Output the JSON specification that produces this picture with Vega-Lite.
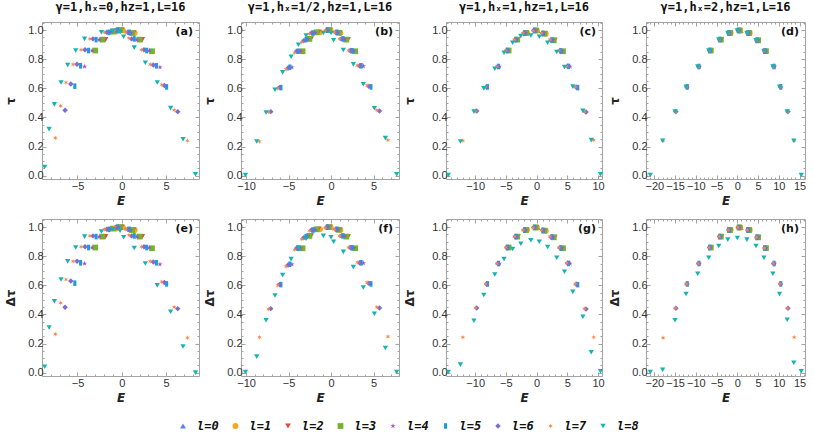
{
"$schema":"https://vega.github.io/schema/vega-lite/v6.json",
"padding":{"left":4,"top":0,"right":0,"bottom":0},
"data":{"values":[
{"c":1,"l":8,"E":-8.7,"t":0.06,"d":0.04},
{"c":1,"l":8,"E":-8.2,"t":0.32,"d":0.31},{"c":1,"l":7,"E":-7.5,"t":0.26,"d":0.265},
{"c":1,"l":8,"E":-7.6,"t":0.49,"d":0.49},{"c":1,"l":7,"E":-6.9,"t":0.48,"d":0.48},{"c":1,"l":6,"E":-6.4,"t":0.45,"d":0.45},
{"c":1,"l":8,"E":-6.85,"t":0.64,"d":0.64},{"c":1,"l":7,"E":-6.3,"t":0.64,"d":0.64},{"c":1,"l":6,"E":-5.75,"t":0.63,"d":0.63},{"c":1,"l":5,"E":-5.3,"t":0.615,"d":0.615},
{"c":1,"l":8,"E":-6.1,"t":0.76,"d":0.765},{"c":1,"l":7,"E":-5.5,"t":0.765,"d":0.765},{"c":1,"l":6,"E":-5.05,"t":0.765,"d":0.765},{"c":1,"l":5,"E":-4.65,"t":0.755,"d":0.755},{"c":1,"l":4,"E":-4.2,"t":0.75,"d":0.75},
{"c":1,"l":8,"E":-5.2,"t":0.86,"d":0.86},{"c":1,"l":7,"E":-4.6,"t":0.865,"d":0.865},{"c":1,"l":6,"E":-4.15,"t":0.865,"d":0.865},{"c":1,"l":5,"E":-3.75,"t":0.86,"d":0.86},{"c":1,"l":4,"E":-3.35,"t":0.86,"d":0.86},{"c":1,"l":3,"E":-3.0,"t":0.86,"d":0.86},
{"c":1,"l":8,"E":-4.2,"t":0.94,"d":0.935},{"c":1,"l":7,"E":-3.6,"t":0.94,"d":0.94},{"c":1,"l":6,"E":-3.25,"t":0.94,"d":0.94},{"c":1,"l":5,"E":-2.9,"t":0.935,"d":0.935},{"c":1,"l":4,"E":-2.55,"t":0.935,"d":0.935},{"c":1,"l":3,"E":-2.2,"t":0.935,"d":0.935},{"c":1,"l":2,"E":-1.85,"t":0.935,"d":0.935},
{"c":1,"l":8,"E":-2.3,"t":0.985,"d":0.97},{"c":1,"l":7,"E":-1.95,"t":0.985,"d":0.985},{"c":1,"l":6,"E":-1.7,"t":0.985,"d":0.985},{"c":1,"l":5,"E":-1.45,"t":0.985,"d":0.985},{"c":1,"l":4,"E":-1.2,"t":0.99,"d":0.99},{"c":1,"l":3,"E":-1.0,"t":0.99,"d":0.99},{"c":1,"l":2,"E":-0.8,"t":0.99,"d":0.99},{"c":1,"l":1,"E":-0.6,"t":0.99,"d":0.99},
{"c":1,"l":8,"E":-1.0,"t":0.995,"d":0.985},{"c":1,"l":7,"E":-0.85,"t":1,"d":1},{"c":1,"l":6,"E":-0.65,"t":1,"d":1},{"c":1,"l":5,"E":-0.5,"t":1,"d":1},{"c":1,"l":4,"E":-0.35,"t":1,"d":1},{"c":1,"l":3,"E":-0.2,"t":1,"d":1},{"c":1,"l":2,"E":-0.05,"t":1,"d":1},{"c":1,"l":1,"E":0.1,"t":1,"d":1},{"c":1,"l":0,"E":0.25,"t":1,"d":1},
{"c":1,"l":8,"E":-0.2,"t":0.985,"d":0.975},{"c":1,"l":7,"E":0.45,"t":0.985,"d":0.985},{"c":1,"l":6,"E":0.65,"t":0.985,"d":0.985},{"c":1,"l":5,"E":0.85,"t":0.985,"d":0.985},{"c":1,"l":4,"E":1.0,"t":0.98,"d":0.98},{"c":1,"l":3,"E":1.15,"t":0.98,"d":0.98},{"c":1,"l":2,"E":1.3,"t":0.98,"d":0.98},{"c":1,"l":1,"E":1.45,"t":0.98,"d":0.98},
{"c":1,"l":8,"E":0.2,"t":0.955,"d":0.93},{"c":1,"l":7,"E":0.8,"t":0.945,"d":0.945},{"c":1,"l":6,"E":1.1,"t":0.94,"d":0.94},{"c":1,"l":5,"E":1.4,"t":0.94,"d":0.94},{"c":1,"l":4,"E":1.7,"t":0.935,"d":0.935},{"c":1,"l":3,"E":2.0,"t":0.935,"d":0.935},{"c":1,"l":2,"E":2.3,"t":0.935,"d":0.935},
{"c":1,"l":8,"E":1.4,"t":0.88,"d":0.857},{"c":1,"l":7,"E":2.2,"t":0.865,"d":0.865},{"c":1,"l":6,"E":2.5,"t":0.865,"d":0.865},{"c":1,"l":5,"E":2.8,"t":0.86,"d":0.86},{"c":1,"l":4,"E":3.1,"t":0.86,"d":0.86},{"c":1,"l":3,"E":3.4,"t":0.855,"d":0.855},
{"c":1,"l":8,"E":2.65,"t":0.776,"d":0.75},{"c":1,"l":7,"E":3.2,"t":0.765,"d":0.765},{"c":1,"l":6,"E":3.55,"t":0.76,"d":0.76},{"c":1,"l":5,"E":3.9,"t":0.755,"d":0.755},{"c":1,"l":4,"E":4.3,"t":0.745,"d":0.745},
{"c":1,"l":8,"E":4.0,"t":0.64,"d":0.6},{"c":1,"l":7,"E":4.5,"t":0.625,"d":0.625},{"c":1,"l":6,"E":4.8,"t":0.62,"d":0.62},{"c":1,"l":5,"E":5.05,"t":0.61,"d":0.61},
{"c":1,"l":8,"E":5.5,"t":0.464,"d":0.418},{"c":1,"l":7,"E":5.9,"t":0.45,"d":0.45},{"c":1,"l":6,"E":6.3,"t":0.44,"d":0.44},
{"c":1,"l":8,"E":6.9,"t":0.25,"d":0.18},{"c":1,"l":7,"E":7.4,"t":0.24,"d":0.24},
{"c":1,"l":8,"E":8.3,"t":0.01,"d":0.0},

{"c":2,"l":8,"E":-10.08,"t":0.005,"d":0.005},
{"c":2,"l":8,"E":-8.75,"t":0.235,"d":0.11},{"c":2,"l":7,"E":-8.43,"t":0.235,"d":0.243},
{"c":2,"l":8,"E":-7.65,"t":0.434,"d":0.36},{"c":2,"l":7,"E":-7.37,"t":0.437,"d":0.437},{"c":2,"l":6,"E":-7.1,"t":0.44,"d":0.44},
{"c":2,"l":8,"E":-6.6,"t":0.59,"d":0.53},{"c":2,"l":7,"E":-6.27,"t":0.6,"d":0.6},{"c":2,"l":6,"E":-6.08,"t":0.605,"d":0.605},{"c":2,"l":5,"E":-5.9,"t":0.605,"d":0.605},
{"c":2,"l":8,"E":-5.7,"t":0.71,"d":0.67},{"c":2,"l":7,"E":-5.3,"t":0.73,"d":0.73},{"c":2,"l":6,"E":-5.05,"t":0.74,"d":0.74},{"c":2,"l":5,"E":-4.85,"t":0.745,"d":0.745},{"c":2,"l":4,"E":-4.6,"t":0.745,"d":0.745},
{"c":2,"l":8,"E":-4.7,"t":0.817,"d":0.78},{"c":2,"l":7,"E":-4.3,"t":0.845,"d":0.845},{"c":2,"l":6,"E":-4.05,"t":0.855,"d":0.855},{"c":2,"l":5,"E":-3.85,"t":0.855,"d":0.855},{"c":2,"l":4,"E":-3.6,"t":0.855,"d":0.855},{"c":2,"l":3,"E":-3.35,"t":0.855,"d":0.855},
{"c":2,"l":8,"E":-3.84,"t":0.9,"d":0.86},{"c":2,"l":7,"E":-3.45,"t":0.918,"d":0.918},{"c":2,"l":6,"E":-3.2,"t":0.928,"d":0.928},{"c":2,"l":5,"E":-2.95,"t":0.935,"d":0.935},{"c":2,"l":4,"E":-2.75,"t":0.938,"d":0.938},{"c":2,"l":3,"E":-2.55,"t":0.94,"d":0.94},{"c":2,"l":2,"E":-2.35,"t":0.94,"d":0.94},
{"c":2,"l":8,"E":-2.94,"t":0.963,"d":0.92},{"c":2,"l":7,"E":-2.55,"t":0.975,"d":0.975},{"c":2,"l":6,"E":-2.3,"t":0.98,"d":0.98},{"c":2,"l":5,"E":-2.1,"t":0.98,"d":0.98},{"c":2,"l":4,"E":-1.9,"t":0.982,"d":0.982},{"c":2,"l":3,"E":-1.7,"t":0.985,"d":0.985},{"c":2,"l":2,"E":-1.5,"t":0.985,"d":0.985},{"c":2,"l":1,"E":-1.3,"t":0.985,"d":0.985},
{"c":2,"l":8,"E":-0.9,"t":0.98,"d":0.94},{"c":2,"l":7,"E":-0.7,"t":0.995,"d":0.995},{"c":2,"l":6,"E":-0.55,"t":0.997,"d":0.997},{"c":2,"l":5,"E":-0.45,"t":1,"d":1},{"c":2,"l":4,"E":-0.35,"t":1,"d":1},{"c":2,"l":3,"E":-0.25,"t":1,"d":1},{"c":2,"l":2,"E":-0.15,"t":1,"d":1},{"c":2,"l":1,"E":-0.05,"t":1,"d":1},{"c":2,"l":0,"E":0.05,"t":1,"d":1},
{"c":2,"l":8,"E":0.0,"t":0.98,"d":0.93},{"c":2,"l":7,"E":0.4,"t":0.985,"d":0.985},{"c":2,"l":6,"E":0.55,"t":0.985,"d":0.985},{"c":2,"l":5,"E":0.7,"t":0.985,"d":0.985},{"c":2,"l":4,"E":0.8,"t":0.983,"d":0.983},{"c":2,"l":3,"E":0.9,"t":0.982,"d":0.982},{"c":2,"l":2,"E":1.0,"t":0.98,"d":0.98},{"c":2,"l":1,"E":1.1,"t":0.98,"d":0.98},
{"c":2,"l":8,"E":0.3,"t":0.93,"d":0.9},{"c":2,"l":7,"E":1.0,"t":0.94,"d":0.94},{"c":2,"l":6,"E":1.2,"t":0.94,"d":0.94},{"c":2,"l":5,"E":1.4,"t":0.94,"d":0.94},{"c":2,"l":4,"E":1.6,"t":0.938,"d":0.938},{"c":2,"l":3,"E":1.8,"t":0.935,"d":0.935},{"c":2,"l":2,"E":2.0,"t":0.935,"d":0.935},
{"c":2,"l":8,"E":1.45,"t":0.863,"d":0.83},{"c":2,"l":7,"E":2.05,"t":0.86,"d":0.86},{"c":2,"l":6,"E":2.25,"t":0.86,"d":0.86},{"c":2,"l":5,"E":2.45,"t":0.858,"d":0.858},{"c":2,"l":4,"E":2.65,"t":0.858,"d":0.858},{"c":2,"l":3,"E":2.85,"t":0.855,"d":0.855},
{"c":2,"l":8,"E":2.63,"t":0.765,"d":0.725},{"c":2,"l":7,"E":3.1,"t":0.758,"d":0.758},{"c":2,"l":6,"E":3.35,"t":0.755,"d":0.755},{"c":2,"l":5,"E":3.55,"t":0.755,"d":0.755},{"c":2,"l":4,"E":3.8,"t":0.753,"d":0.753},
{"c":2,"l":8,"E":3.8,"t":0.628,"d":0.585},{"c":2,"l":7,"E":4.24,"t":0.62,"d":0.62},{"c":2,"l":6,"E":4.45,"t":0.615,"d":0.615},{"c":2,"l":5,"E":4.7,"t":0.61,"d":0.61},
{"c":2,"l":8,"E":5.1,"t":0.463,"d":0.405},{"c":2,"l":7,"E":5.4,"t":0.45,"d":0.45},{"c":2,"l":6,"E":5.7,"t":0.445,"d":0.445},
{"c":2,"l":8,"E":6.4,"t":0.258,"d":0.17},{"c":2,"l":7,"E":6.7,"t":0.244,"d":0.248},
{"c":2,"l":8,"E":7.73,"t":0.01,"d":0.005},

{"c":3,"l":8,"E":-14.37,"t":0.005,"d":0.005},
{"c":3,"l":8,"E":-12.4,"t":0.235,"d":0.055},{"c":3,"l":7,"E":-12.0,"t":0.24,"d":0.243},
{"c":3,"l":8,"E":-10.2,"t":0.44,"d":0.357},{"c":3,"l":7,"E":-9.95,"t":0.445,"d":0.445},{"c":3,"l":6,"E":-9.75,"t":0.445,"d":0.445},
{"c":3,"l":8,"E":-8.6,"t":0.6,"d":0.534},{"c":3,"l":7,"E":-8.3,"t":0.61,"d":0.61},{"c":3,"l":6,"E":-8.15,"t":0.61,"d":0.61},{"c":3,"l":5,"E":-8.0,"t":0.61,"d":0.61},
{"c":3,"l":8,"E":-6.8,"t":0.735,"d":0.675},{"c":3,"l":7,"E":-6.45,"t":0.75,"d":0.75},{"c":3,"l":6,"E":-6.3,"t":0.75,"d":0.75},{"c":3,"l":5,"E":-6.2,"t":0.75,"d":0.75},{"c":3,"l":4,"E":-6.05,"t":0.75,"d":0.75},
{"c":3,"l":8,"E":-5.3,"t":0.845,"d":0.78},{"c":3,"l":7,"E":-5.0,"t":0.86,"d":0.86},{"c":3,"l":6,"E":-4.85,"t":0.86,"d":0.86},{"c":3,"l":5,"E":-4.75,"t":0.86,"d":0.86},{"c":3,"l":4,"E":-4.65,"t":0.86,"d":0.86},{"c":3,"l":3,"E":-4.55,"t":0.86,"d":0.86},
{"c":3,"l":8,"E":-3.9,"t":0.913,"d":0.85},{"c":3,"l":7,"E":-3.6,"t":0.935,"d":0.935},{"c":3,"l":6,"E":-3.45,"t":0.935,"d":0.935},{"c":3,"l":5,"E":-3.35,"t":0.935,"d":0.935},{"c":3,"l":4,"E":-3.25,"t":0.935,"d":0.935},{"c":3,"l":3,"E":-3.15,"t":0.935,"d":0.935},{"c":3,"l":2,"E":-3.05,"t":0.935,"d":0.935},
{"c":3,"l":8,"E":-2.57,"t":0.96,"d":0.886},{"c":3,"l":7,"E":-2.2,"t":0.98,"d":0.98},{"c":3,"l":6,"E":-2.05,"t":0.98,"d":0.98},{"c":3,"l":5,"E":-1.95,"t":0.98,"d":0.98},{"c":3,"l":4,"E":-1.85,"t":0.98,"d":0.98},{"c":3,"l":3,"E":-1.75,"t":0.98,"d":0.98},{"c":3,"l":2,"E":-1.65,"t":0.98,"d":0.98},{"c":3,"l":1,"E":-1.55,"t":0.98,"d":0.98},
{"c":3,"l":8,"E":-0.93,"t":0.963,"d":0.91},{"c":3,"l":7,"E":-0.55,"t":0.995,"d":0.995},{"c":3,"l":6,"E":-0.45,"t":0.997,"d":0.997},{"c":3,"l":5,"E":-0.35,"t":0.998,"d":0.998},{"c":3,"l":4,"E":-0.25,"t":0.998,"d":0.998},{"c":3,"l":3,"E":-0.15,"t":0.998,"d":0.998},{"c":3,"l":2,"E":-0.05,"t":0.998,"d":0.998},{"c":3,"l":1,"E":0.05,"t":0.998,"d":0.998},{"c":3,"l":0,"E":0.15,"t":0.998,"d":0.998},
{"c":3,"l":8,"E":0.44,"t":0.955,"d":0.9},{"c":3,"l":7,"E":0.8,"t":0.98,"d":0.98},{"c":3,"l":6,"E":0.95,"t":0.978,"d":0.978},{"c":3,"l":5,"E":1.05,"t":0.978,"d":0.978},{"c":3,"l":4,"E":1.15,"t":0.977,"d":0.977},{"c":3,"l":3,"E":1.25,"t":0.976,"d":0.976},{"c":3,"l":2,"E":1.35,"t":0.975,"d":0.975},{"c":3,"l":1,"E":1.5,"t":0.975,"d":0.975},
{"c":3,"l":8,"E":1.8,"t":0.913,"d":0.864},{"c":3,"l":7,"E":2.2,"t":0.935,"d":0.935},{"c":3,"l":6,"E":2.35,"t":0.933,"d":0.933},{"c":3,"l":5,"E":2.5,"t":0.932,"d":0.932},{"c":3,"l":4,"E":2.65,"t":0.931,"d":0.931},{"c":3,"l":3,"E":2.8,"t":0.93,"d":0.93},{"c":3,"l":2,"E":2.95,"t":0.93,"d":0.93},
{"c":3,"l":8,"E":3.28,"t":0.85,"d":0.79},{"c":3,"l":7,"E":3.66,"t":0.86,"d":0.86},{"c":3,"l":6,"E":3.8,"t":0.858,"d":0.858},{"c":3,"l":5,"E":3.95,"t":0.857,"d":0.857},{"c":3,"l":4,"E":4.1,"t":0.856,"d":0.856},{"c":3,"l":3,"E":4.3,"t":0.855,"d":0.855},
{"c":3,"l":8,"E":4.54,"t":0.746,"d":0.693},{"c":3,"l":7,"E":4.9,"t":0.753,"d":0.753},{"c":3,"l":6,"E":5.05,"t":0.752,"d":0.752},{"c":3,"l":5,"E":5.2,"t":0.751,"d":0.751},{"c":3,"l":4,"E":5.45,"t":0.75,"d":0.75},
{"c":3,"l":8,"E":5.9,"t":0.612,"d":0.555},{"c":3,"l":7,"E":6.3,"t":0.61,"d":0.61},{"c":3,"l":6,"E":6.45,"t":0.608,"d":0.608},{"c":3,"l":5,"E":6.7,"t":0.605,"d":0.605},
{"c":3,"l":8,"E":7.54,"t":0.445,"d":0.384},{"c":3,"l":7,"E":7.8,"t":0.44,"d":0.44},{"c":3,"l":6,"E":8.05,"t":0.437,"d":0.437},
{"c":3,"l":8,"E":8.9,"t":0.244,"d":0.14},{"c":3,"l":7,"E":9.3,"t":0.244,"d":0.243},
{"c":3,"l":8,"E":10.4,"t":0.01,"d":0.01},

{"c":4,"l":8,"E":-20.96,"t":0.005,"d":0.005},
{"c":4,"l":8,"E":-17.99,"t":0.24,"d":0.02},{"c":4,"l":7,"E":-17.89,"t":0.24,"d":0.239},
{"c":4,"l":8,"E":-15.0,"t":0.44,"d":0.36},{"c":4,"l":7,"E":-14.9,"t":0.44,"d":0.443},{"c":4,"l":6,"E":-14.8,"t":0.44,"d":0.443},
{"c":4,"l":8,"E":-12.35,"t":0.61,"d":0.54},{"c":4,"l":7,"E":-12.25,"t":0.61,"d":0.61},{"c":4,"l":6,"E":-12.15,"t":0.61,"d":0.61},{"c":4,"l":5,"E":-12.05,"t":0.61,"d":0.61},
{"c":4,"l":8,"E":-9.54,"t":0.75,"d":0.68},{"c":4,"l":7,"E":-9.44,"t":0.75,"d":0.75},{"c":4,"l":6,"E":-9.34,"t":0.75,"d":0.75},{"c":4,"l":5,"E":-9.24,"t":0.75,"d":0.75},{"c":4,"l":4,"E":-9.14,"t":0.75,"d":0.75},
{"c":4,"l":8,"E":-6.88,"t":0.86,"d":0.79},{"c":4,"l":7,"E":-6.78,"t":0.86,"d":0.86},{"c":4,"l":6,"E":-6.68,"t":0.86,"d":0.86},{"c":4,"l":5,"E":-6.58,"t":0.86,"d":0.86},{"c":4,"l":4,"E":-6.48,"t":0.86,"d":0.86},{"c":4,"l":3,"E":-6.38,"t":0.86,"d":0.86},
{"c":4,"l":8,"E":-4.47,"t":0.936,"d":0.87},{"c":4,"l":7,"E":-4.37,"t":0.935,"d":0.935},{"c":4,"l":6,"E":-4.27,"t":0.935,"d":0.935},{"c":4,"l":5,"E":-4.17,"t":0.935,"d":0.935},{"c":4,"l":4,"E":-4.07,"t":0.935,"d":0.935},{"c":4,"l":3,"E":-3.97,"t":0.935,"d":0.935},{"c":4,"l":2,"E":-3.87,"t":0.935,"d":0.935},
{"c":4,"l":8,"E":-2.3,"t":0.98,"d":0.914},{"c":4,"l":7,"E":-2.2,"t":0.98,"d":0.98},{"c":4,"l":6,"E":-2.1,"t":0.98,"d":0.98},{"c":4,"l":5,"E":-2.0,"t":0.98,"d":0.98},{"c":4,"l":4,"E":-1.9,"t":0.98,"d":0.98},{"c":4,"l":3,"E":-1.8,"t":0.98,"d":0.98},{"c":4,"l":2,"E":-1.7,"t":0.98,"d":0.98},{"c":4,"l":1,"E":-1.6,"t":0.98,"d":0.98},
{"c":4,"l":8,"E":0.0,"t":0.998,"d":0.925},{"c":4,"l":7,"E":0.1,"t":0.998,"d":0.998},{"c":4,"l":6,"E":0.2,"t":0.998,"d":0.998},{"c":4,"l":5,"E":0.3,"t":0.998,"d":0.998},{"c":4,"l":4,"E":0.4,"t":0.998,"d":0.998},{"c":4,"l":3,"E":0.5,"t":0.998,"d":0.998},{"c":4,"l":2,"E":0.6,"t":0.998,"d":0.998},{"c":4,"l":1,"E":0.7,"t":0.998,"d":0.998},{"c":4,"l":0,"E":0.8,"t":0.998,"d":0.998},
{"c":4,"l":8,"E":2.3,"t":0.98,"d":0.914},{"c":4,"l":7,"E":2.4,"t":0.98,"d":0.98},{"c":4,"l":6,"E":2.5,"t":0.98,"d":0.98},{"c":4,"l":5,"E":2.6,"t":0.98,"d":0.98},{"c":4,"l":4,"E":2.7,"t":0.98,"d":0.98},{"c":4,"l":3,"E":2.8,"t":0.98,"d":0.98},{"c":4,"l":2,"E":2.9,"t":0.98,"d":0.98},{"c":4,"l":1,"E":3.0,"t":0.98,"d":0.98},
{"c":4,"l":8,"E":4.5,"t":0.93,"d":0.87},{"c":4,"l":7,"E":4.6,"t":0.93,"d":0.93},{"c":4,"l":6,"E":4.7,"t":0.93,"d":0.93},{"c":4,"l":5,"E":4.8,"t":0.93,"d":0.93},{"c":4,"l":4,"E":4.9,"t":0.93,"d":0.93},{"c":4,"l":3,"E":5.0,"t":0.93,"d":0.93},{"c":4,"l":2,"E":5.1,"t":0.93,"d":0.93},
{"c":4,"l":8,"E":6.4,"t":0.856,"d":0.79},{"c":4,"l":7,"E":6.5,"t":0.856,"d":0.856},{"c":4,"l":6,"E":6.6,"t":0.856,"d":0.856},{"c":4,"l":5,"E":6.7,"t":0.856,"d":0.856},{"c":4,"l":4,"E":6.8,"t":0.856,"d":0.856},{"c":4,"l":3,"E":6.9,"t":0.856,"d":0.856},
{"c":4,"l":8,"E":8.56,"t":0.75,"d":0.68},{"c":4,"l":7,"E":8.66,"t":0.75,"d":0.75},{"c":4,"l":6,"E":8.76,"t":0.75,"d":0.75},{"c":4,"l":5,"E":8.86,"t":0.75,"d":0.75},{"c":4,"l":4,"E":8.96,"t":0.75,"d":0.75},
{"c":4,"l":8,"E":10.17,"t":0.61,"d":0.54},{"c":4,"l":7,"E":10.27,"t":0.61,"d":0.61},{"c":4,"l":6,"E":10.37,"t":0.61,"d":0.61},{"c":4,"l":5,"E":10.47,"t":0.61,"d":0.61},
{"c":4,"l":8,"E":12.0,"t":0.44,"d":0.364},{"c":4,"l":7,"E":12.1,"t":0.44,"d":0.443},{"c":4,"l":6,"E":12.2,"t":0.44,"d":0.443},
{"c":4,"l":8,"E":13.6,"t":0.24,"d":0.068},{"c":4,"l":7,"E":13.7,"t":0.24,"d":0.243},
{"c":4,"l":8,"E":15.4,"t":0.005,"d":0.01}
]},
"config":{
"view":{"stroke":"#a3a3a3","strokeWidth":1},
"axis":{"domain":false,"grid":false,"labelFont":"Liberation Sans","labelFontSize":11,"labelColor":"#333333","tickColor":"#a3a3a3","titleFont":"DejaVu Sans","titleFontSize":12,"titleFontWeight":"bold","titleColor":"#222222","labelOverlap":false,"labelFlush":false,"labelPadding":3},
"axisY":{"titlePadding":10},
"axisX":{"titlePadding":2,"labelPadding":5},
"title":{"font":"DejaVu Sans Mono","fontSize":12,"fontWeight":"bold","color":"#111111","offset":3,"anchor":"middle","frame":"group"},
"legend":{"symbolSize":22,"labelFont":"DejaVu Sans Mono","labelFontWeight":"bold","labelFontStyle":"italic","labelFontSize":12,"labelColor":"#111111","columnPadding":10.5,"labelOffset":8,"symbolStrokeWidth":0}
},
"spacing":6,
"vconcat":[
{"spacing":3,"hconcat":[
{"width":157,"height":157,"title":"γ=1,hₓ=0,hz=1,L=16","layer":[
{"transform":[{"filter":"datum.c==1"}],"mark":{"type":"point","filled":true,"opacity":1},"encoding":{
"x":{"field":"E","type":"quantitative","scale":{"domain":[-9,8.7],"nice":false,"zero":false},"axis":{"title":"E","titleFontStyle":"italic","values":[-9,-8,-7,-6,-5,-4,-3,-2,-1,0,1,2,3,4,5,6,7,8],"labelExpr":"datum.value%5==0?format(datum.value,'d'):''","tickSize":{"condition":{"test":"datum.value%5==0","value":-4},"value":-2}}},
"y":{"field":"t","type":"quantitative","scale":{"domain":[-0.023,1.056],"nice":false,"zero":false},"axis":{"title":"τ","values":[0,0.05,0.1,0.15,0.2,0.25,0.3,0.35,0.4,0.45,0.5,0.55,0.6,0.65,0.7,0.75,0.8,0.85,0.9,0.95,1,1.05],"labelExpr":"indexof([0,0.2,0.4,0.6,0.8,1],datum.value)>=0?format(datum.value,'.1f'):''","tickSize":{"condition":{"test":"indexof([0,0.2,0.4,0.6,0.8,1],datum.value)>=0","value":-4},"value":-2}}},
"color":{"field":"l","type":"nominal","scale":{"domain":[0,1,2,3,4,5,6,7,8],"range":["#5a86e0","#f5a623","#e8473f","#72b52a","#a84fcc","#1c9ce0","#7a6bd6","#f08a4b","#17b3b0"]},"legend":{"title":null,"orient":"none","legendX":135,"legendY":398,"direction":"horizontal","columns":9,"labelExpr":"'l='+datum.label"}},
"shape":{"field":"l","type":"nominal","scale":{"domain":[0,1,2,3,4,5,6,7,8],"range":["triangle-up","circle","triangle-down","square","M0,-1L0.2245,-0.309L0.951,-0.309L0.363,0.118L0.588,0.809L0,0.382L-0.588,0.809L-0.363,0.118L-0.951,-0.309L-0.2245,-0.309Z","M-0.55,-1L0.55,-1L0.55,1L-0.55,1Z","diamond","M0,-1L0.175,-0.303L0.866,-0.5L0.35,0L0.866,0.5L0.175,0.303L0,1L-0.175,0.303L-0.866,0.5L-0.35,0L-0.866,-0.5L-0.175,-0.303Z","triangle-down"]},"legend":{"title":null,"orient":"none","legendX":135,"legendY":398,"direction":"horizontal","columns":9,"labelExpr":"'l='+datum.label"}},
"size":{"field":"l","type":"ordinal","scale":{"domain":[0,1,2,3,4,5,6,7,8],"range":[36,28,36,28,70,55,65,85,60]},"legend":null},
"order":{"field":"l","type":"quantitative"}}},
{"data":{"values":[{"lab":"(a)"}]},"mark":{"type":"text","font":"DejaVu Sans","fontWeight":"bold","fontSize":11,"align":"right","baseline":"top","color":"#111111"},"encoding":{"text":{"field":"lab"},
"x":{"datum":8.02,"type":"quantitative","axis":{"orient":"top","title":null,"labels":false,"values":[-9,-8,-7,-6,-5,-4,-3,-2,-1,0,1,2,3,4,5,6,7,8],"tickSize":{"condition":{"test":"datum.value%5==0","value":-4},"value":-2}}},
"y":{"datum":1.029,"type":"quantitative","axis":{"orient":"right","title":null,"labels":false,"values":[0,0.05,0.1,0.15,0.2,0.25,0.3,0.35,0.4,0.45,0.5,0.55,0.6,0.65,0.7,0.75,0.8,0.85,0.9,0.95,1,1.05],"tickSize":{"condition":{"test":"indexof([0,0.2,0.4,0.6,0.8,1],datum.value)>=0","value":-4},"value":-2}}}}}
],"resolve":{"axis":{"x":"independent","y":"independent"}}},

{"width":158,"height":157,"title":"γ=1,hₓ=1/2,hz=1,L=16","layer":[
{"transform":[{"filter":"datum.c==2"}],"mark":{"type":"point","filled":true,"opacity":1},"encoding":{
"x":{"field":"E","type":"quantitative","scale":{"domain":[-10.6,8.0],"nice":false,"zero":false},"axis":{"title":"E","titleFontStyle":"italic","values":[-10,-9,-8,-7,-6,-5,-4,-3,-2,-1,0,1,2,3,4,5,6,7,8],"labelExpr":"datum.value%5==0?format(datum.value,'d'):''","tickSize":{"condition":{"test":"datum.value%5==0","value":-4},"value":-2}}},
"y":{"field":"t","type":"quantitative","scale":{"domain":[-0.023,1.056],"nice":false,"zero":false},"axis":{"title":"τ","values":[0,0.05,0.1,0.15,0.2,0.25,0.3,0.35,0.4,0.45,0.5,0.55,0.6,0.65,0.7,0.75,0.8,0.85,0.9,0.95,1,1.05],"labelExpr":"indexof([0,0.2,0.4,0.6,0.8,1],datum.value)>=0?format(datum.value,'.1f'):''","tickSize":{"condition":{"test":"indexof([0,0.2,0.4,0.6,0.8,1],datum.value)>=0","value":-4},"value":-2}}},
"color":{"field":"l","type":"nominal","scale":{"domain":[0,1,2,3,4,5,6,7,8],"range":["#5a86e0","#f5a623","#e8473f","#72b52a","#a84fcc","#1c9ce0","#7a6bd6","#f08a4b","#17b3b0"]},"legend":{"title":null,"orient":"none","legendX":135,"legendY":398,"direction":"horizontal","columns":9,"labelExpr":"'l='+datum.label"}},
"shape":{"field":"l","type":"nominal","scale":{"domain":[0,1,2,3,4,5,6,7,8],"range":["triangle-up","circle","triangle-down","square","M0,-1L0.2245,-0.309L0.951,-0.309L0.363,0.118L0.588,0.809L0,0.382L-0.588,0.809L-0.363,0.118L-0.951,-0.309L-0.2245,-0.309Z","M-0.55,-1L0.55,-1L0.55,1L-0.55,1Z","diamond","M0,-1L0.175,-0.303L0.866,-0.5L0.35,0L0.866,0.5L0.175,0.303L0,1L-0.175,0.303L-0.866,0.5L-0.35,0L-0.866,-0.5L-0.175,-0.303Z","triangle-down"]},"legend":{"title":null,"orient":"none","legendX":135,"legendY":398,"direction":"horizontal","columns":9,"labelExpr":"'l='+datum.label"}},
"size":{"field":"l","type":"ordinal","scale":{"domain":[0,1,2,3,4,5,6,7,8],"range":[36,28,36,28,70,55,65,85,60]},"legend":null},
"order":{"field":"l","type":"quantitative"}}},
{"data":{"values":[{"lab":"(b)"}]},"mark":{"type":"text","font":"DejaVu Sans","fontWeight":"bold","fontSize":11,"align":"right","baseline":"top","color":"#111111"},"encoding":{"text":{"field":"lab"},
"x":{"datum":7.3,"type":"quantitative","axis":{"orient":"top","title":null,"labels":false,"values":[-10,-9,-8,-7,-6,-5,-4,-3,-2,-1,0,1,2,3,4,5,6,7,8],"tickSize":{"condition":{"test":"datum.value%5==0","value":-4},"value":-2}}},
"y":{"datum":1.029,"type":"quantitative","axis":{"orient":"right","title":null,"labels":false,"values":[0,0.05,0.1,0.15,0.2,0.25,0.3,0.35,0.4,0.45,0.5,0.55,0.6,0.65,0.7,0.75,0.8,0.85,0.9,0.95,1,1.05],"tickSize":{"condition":{"test":"indexof([0,0.2,0.4,0.6,0.8,1],datum.value)>=0","value":-4},"value":-2}}}}}
],"resolve":{"axis":{"x":"independent","y":"independent"}}},

{"width":156,"height":157,"title":"γ=1,hₓ=1,hz=1,L=16","layer":[
{"transform":[{"filter":"datum.c==3"}],"mark":{"type":"point","filled":true,"opacity":1},"encoding":{
"x":{"field":"E","type":"quantitative","scale":{"domain":[-14.75,10.65],"nice":false,"zero":false},"axis":{"title":"E","titleFontStyle":"italic","values":[-14,-13,-12,-11,-10,-9,-8,-7,-6,-5,-4,-3,-2,-1,0,1,2,3,4,5,6,7,8,9,10],"labelExpr":"datum.value%5==0?format(datum.value,'d'):''","tickSize":{"condition":{"test":"datum.value%5==0","value":-4},"value":-2}}},
"y":{"field":"t","type":"quantitative","scale":{"domain":[-0.023,1.056],"nice":false,"zero":false},"axis":{"title":"τ","titlePadding":15,"values":[0,0.05,0.1,0.15,0.2,0.25,0.3,0.35,0.4,0.45,0.5,0.55,0.6,0.65,0.7,0.75,0.8,0.85,0.9,0.95,1,1.05],"labelExpr":"indexof([0,0.2,0.4,0.6,0.8,1],datum.value)>=0?format(datum.value,'.1f'):''","tickSize":{"condition":{"test":"indexof([0,0.2,0.4,0.6,0.8,1],datum.value)>=0","value":-4},"value":-2}}},
"color":{"field":"l","type":"nominal","scale":{"domain":[0,1,2,3,4,5,6,7,8],"range":["#5a86e0","#f5a623","#e8473f","#72b52a","#a84fcc","#1c9ce0","#7a6bd6","#f08a4b","#17b3b0"]},"legend":{"title":null,"orient":"none","legendX":135,"legendY":398,"direction":"horizontal","columns":9,"labelExpr":"'l='+datum.label"}},
"shape":{"field":"l","type":"nominal","scale":{"domain":[0,1,2,3,4,5,6,7,8],"range":["triangle-up","circle","triangle-down","square","M0,-1L0.2245,-0.309L0.951,-0.309L0.363,0.118L0.588,0.809L0,0.382L-0.588,0.809L-0.363,0.118L-0.951,-0.309L-0.2245,-0.309Z","M-0.55,-1L0.55,-1L0.55,1L-0.55,1Z","diamond","M0,-1L0.175,-0.303L0.866,-0.5L0.35,0L0.866,0.5L0.175,0.303L0,1L-0.175,0.303L-0.866,0.5L-0.35,0L-0.866,-0.5L-0.175,-0.303Z","triangle-down"]},"legend":{"title":null,"orient":"none","legendX":135,"legendY":398,"direction":"horizontal","columns":9,"labelExpr":"'l='+datum.label"}},
"size":{"field":"l","type":"ordinal","scale":{"domain":[0,1,2,3,4,5,6,7,8],"range":[36,28,36,28,70,55,65,85,60]},"legend":null},
"order":{"field":"l","type":"quantitative"}}},
{"data":{"values":[{"lab":"(c)"}]},"mark":{"type":"text","font":"DejaVu Sans","fontWeight":"bold","fontSize":11,"align":"right","baseline":"top","color":"#111111"},"encoding":{"text":{"field":"lab"},
"x":{"datum":9.67,"type":"quantitative","axis":{"orient":"top","title":null,"labels":false,"values":[-14,-13,-12,-11,-10,-9,-8,-7,-6,-5,-4,-3,-2,-1,0,1,2,3,4,5,6,7,8,9,10],"tickSize":{"condition":{"test":"datum.value%5==0","value":-4},"value":-2}}},
"y":{"datum":1.029,"type":"quantitative","axis":{"orient":"right","title":null,"labels":false,"values":[0,0.05,0.1,0.15,0.2,0.25,0.3,0.35,0.4,0.45,0.5,0.55,0.6,0.65,0.7,0.75,0.8,0.85,0.9,0.95,1,1.05],"tickSize":{"condition":{"test":"indexof([0,0.2,0.4,0.6,0.8,1],datum.value)>=0","value":-4},"value":-2}}}}}
],"resolve":{"axis":{"x":"independent","y":"independent"}}},

{"width":159,"height":157,"title":"γ=1,hₓ=2,hz=1,L=16","layer":[
{"transform":[{"filter":"datum.c==4"}],"mark":{"type":"point","filled":true,"opacity":1},"encoding":{
"x":{"field":"E","type":"quantitative","scale":{"domain":[-22,16.3],"nice":false,"zero":false},"axis":{"title":"E","titleFontStyle":"italic","values":[-22,-21,-20,-19,-18,-17,-16,-15,-14,-13,-12,-11,-10,-9,-8,-7,-6,-5,-4,-3,-2,-1,0,1,2,3,4,5,6,7,8,9,10,11,12,13,14,15,16],"labelExpr":"datum.value%5==0?format(datum.value,'d'):''","tickSize":{"condition":{"test":"datum.value%5==0","value":-4},"value":-2}}},
"y":{"field":"t","type":"quantitative","scale":{"domain":[-0.023,1.056],"nice":false,"zero":false},"axis":{"title":"τ","values":[0,0.05,0.1,0.15,0.2,0.25,0.3,0.35,0.4,0.45,0.5,0.55,0.6,0.65,0.7,0.75,0.8,0.85,0.9,0.95,1,1.05],"labelExpr":"indexof([0,0.2,0.4,0.6,0.8,1],datum.value)>=0?format(datum.value,'.1f'):''","tickSize":{"condition":{"test":"indexof([0,0.2,0.4,0.6,0.8,1],datum.value)>=0","value":-4},"value":-2}}},
"color":{"field":"l","type":"nominal","scale":{"domain":[0,1,2,3,4,5,6,7,8],"range":["#5a86e0","#f5a623","#e8473f","#72b52a","#a84fcc","#1c9ce0","#7a6bd6","#f08a4b","#17b3b0"]},"legend":{"title":null,"orient":"none","legendX":135,"legendY":398,"direction":"horizontal","columns":9,"labelExpr":"'l='+datum.label"}},
"shape":{"field":"l","type":"nominal","scale":{"domain":[0,1,2,3,4,5,6,7,8],"range":["triangle-up","circle","triangle-down","square","M0,-1L0.2245,-0.309L0.951,-0.309L0.363,0.118L0.588,0.809L0,0.382L-0.588,0.809L-0.363,0.118L-0.951,-0.309L-0.2245,-0.309Z","M-0.55,-1L0.55,-1L0.55,1L-0.55,1Z","diamond","M0,-1L0.175,-0.303L0.866,-0.5L0.35,0L0.866,0.5L0.175,0.303L0,1L-0.175,0.303L-0.866,0.5L-0.35,0L-0.866,-0.5L-0.175,-0.303Z","triangle-down"]},"legend":{"title":null,"orient":"none","legendX":135,"legendY":398,"direction":"horizontal","columns":9,"labelExpr":"'l='+datum.label"}},
"size":{"field":"l","type":"ordinal","scale":{"domain":[0,1,2,3,4,5,6,7,8],"range":[36,28,36,28,70,55,65,85,60]},"legend":null},
"order":{"field":"l","type":"quantitative"}}},
{"data":{"values":[{"lab":"(d)"}]},"mark":{"type":"text","font":"DejaVu Sans","fontWeight":"bold","fontSize":11,"align":"right","baseline":"top","color":"#111111"},"encoding":{"text":{"field":"lab"},
"x":{"datum":14.85,"type":"quantitative","axis":{"orient":"top","title":null,"labels":false,"values":[-22,-21,-20,-19,-18,-17,-16,-15,-14,-13,-12,-11,-10,-9,-8,-7,-6,-5,-4,-3,-2,-1,0,1,2,3,4,5,6,7,8,9,10,11,12,13,14,15,16],"tickSize":{"condition":{"test":"datum.value%5==0","value":-4},"value":-2}}},
"y":{"datum":1.029,"type":"quantitative","axis":{"orient":"right","title":null,"labels":false,"values":[0,0.05,0.1,0.15,0.2,0.25,0.3,0.35,0.4,0.45,0.5,0.55,0.6,0.65,0.7,0.75,0.8,0.85,0.9,0.95,1,1.05],"tickSize":{"condition":{"test":"indexof([0,0.2,0.4,0.6,0.8,1],datum.value)>=0","value":-4},"value":-2}}}}}
],"resolve":{"axis":{"x":"independent","y":"independent"}}}
]},
{"spacing":3,"hconcat":[
{"width":157,"height":157,"layer":[
{"transform":[{"filter":"datum.c==1"}],"mark":{"type":"point","filled":true,"opacity":1},"encoding":{
"x":{"field":"E","type":"quantitative","scale":{"domain":[-9,8.7],"nice":false,"zero":false},"axis":{"title":"E","titleFontStyle":"italic","values":[-9,-8,-7,-6,-5,-4,-3,-2,-1,0,1,2,3,4,5,6,7,8],"labelExpr":"datum.value%5==0?format(datum.value,'d'):''","tickSize":{"condition":{"test":"datum.value%5==0","value":-4},"value":-2}}},
"y":{"field":"d","type":"quantitative","scale":{"domain":[-0.023,1.056],"nice":false,"zero":false},"axis":{"title":"Δτ","values":[0,0.05,0.1,0.15,0.2,0.25,0.3,0.35,0.4,0.45,0.5,0.55,0.6,0.65,0.7,0.75,0.8,0.85,0.9,0.95,1,1.05],"labelExpr":"indexof([0,0.2,0.4,0.6,0.8,1],datum.value)>=0?format(datum.value,'.1f'):''","tickSize":{"condition":{"test":"indexof([0,0.2,0.4,0.6,0.8,1],datum.value)>=0","value":-4},"value":-2}}},
"color":{"field":"l","type":"nominal","scale":{"domain":[0,1,2,3,4,5,6,7,8],"range":["#5a86e0","#f5a623","#e8473f","#72b52a","#a84fcc","#1c9ce0","#7a6bd6","#f08a4b","#17b3b0"]},"legend":{"title":null,"orient":"none","legendX":135,"legendY":398,"direction":"horizontal","columns":9,"labelExpr":"'l='+datum.label"}},
"shape":{"field":"l","type":"nominal","scale":{"domain":[0,1,2,3,4,5,6,7,8],"range":["triangle-up","circle","triangle-down","square","M0,-1L0.2245,-0.309L0.951,-0.309L0.363,0.118L0.588,0.809L0,0.382L-0.588,0.809L-0.363,0.118L-0.951,-0.309L-0.2245,-0.309Z","M-0.55,-1L0.55,-1L0.55,1L-0.55,1Z","diamond","M0,-1L0.175,-0.303L0.866,-0.5L0.35,0L0.866,0.5L0.175,0.303L0,1L-0.175,0.303L-0.866,0.5L-0.35,0L-0.866,-0.5L-0.175,-0.303Z","triangle-down"]},"legend":{"title":null,"orient":"none","legendX":135,"legendY":398,"direction":"horizontal","columns":9,"labelExpr":"'l='+datum.label"}},
"size":{"field":"l","type":"ordinal","scale":{"domain":[0,1,2,3,4,5,6,7,8],"range":[36,28,36,28,70,55,65,85,60]},"legend":null},
"order":{"field":"l","type":"quantitative"}}},
{"data":{"values":[{"lab":"(e)"}]},"mark":{"type":"text","font":"DejaVu Sans","fontWeight":"bold","fontSize":11,"align":"right","baseline":"top","color":"#111111"},"encoding":{"text":{"field":"lab"},
"x":{"datum":8.02,"type":"quantitative","axis":{"orient":"top","title":null,"labels":false,"values":[-9,-8,-7,-6,-5,-4,-3,-2,-1,0,1,2,3,4,5,6,7,8],"tickSize":{"condition":{"test":"datum.value%5==0","value":-4},"value":-2}}},
"y":{"datum":1.029,"type":"quantitative","axis":{"orient":"right","title":null,"labels":false,"values":[0,0.05,0.1,0.15,0.2,0.25,0.3,0.35,0.4,0.45,0.5,0.55,0.6,0.65,0.7,0.75,0.8,0.85,0.9,0.95,1,1.05],"tickSize":{"condition":{"test":"indexof([0,0.2,0.4,0.6,0.8,1],datum.value)>=0","value":-4},"value":-2}}}}}
],"resolve":{"axis":{"x":"independent","y":"independent"}}},

{"width":158,"height":157,"layer":[
{"transform":[{"filter":"datum.c==2"}],"mark":{"type":"point","filled":true,"opacity":1},"encoding":{
"x":{"field":"E","type":"quantitative","scale":{"domain":[-10.6,8.0],"nice":false,"zero":false},"axis":{"title":"E","titleFontStyle":"italic","values":[-10,-9,-8,-7,-6,-5,-4,-3,-2,-1,0,1,2,3,4,5,6,7,8],"labelExpr":"datum.value%5==0?format(datum.value,'d'):''","tickSize":{"condition":{"test":"datum.value%5==0","value":-4},"value":-2}}},
"y":{"field":"d","type":"quantitative","scale":{"domain":[-0.023,1.056],"nice":false,"zero":false},"axis":{"title":"Δτ","values":[0,0.05,0.1,0.15,0.2,0.25,0.3,0.35,0.4,0.45,0.5,0.55,0.6,0.65,0.7,0.75,0.8,0.85,0.9,0.95,1,1.05],"labelExpr":"indexof([0,0.2,0.4,0.6,0.8,1],datum.value)>=0?format(datum.value,'.1f'):''","tickSize":{"condition":{"test":"indexof([0,0.2,0.4,0.6,0.8,1],datum.value)>=0","value":-4},"value":-2}}},
"color":{"field":"l","type":"nominal","scale":{"domain":[0,1,2,3,4,5,6,7,8],"range":["#5a86e0","#f5a623","#e8473f","#72b52a","#a84fcc","#1c9ce0","#7a6bd6","#f08a4b","#17b3b0"]},"legend":{"title":null,"orient":"none","legendX":135,"legendY":398,"direction":"horizontal","columns":9,"labelExpr":"'l='+datum.label"}},
"shape":{"field":"l","type":"nominal","scale":{"domain":[0,1,2,3,4,5,6,7,8],"range":["triangle-up","circle","triangle-down","square","M0,-1L0.2245,-0.309L0.951,-0.309L0.363,0.118L0.588,0.809L0,0.382L-0.588,0.809L-0.363,0.118L-0.951,-0.309L-0.2245,-0.309Z","M-0.55,-1L0.55,-1L0.55,1L-0.55,1Z","diamond","M0,-1L0.175,-0.303L0.866,-0.5L0.35,0L0.866,0.5L0.175,0.303L0,1L-0.175,0.303L-0.866,0.5L-0.35,0L-0.866,-0.5L-0.175,-0.303Z","triangle-down"]},"legend":{"title":null,"orient":"none","legendX":135,"legendY":398,"direction":"horizontal","columns":9,"labelExpr":"'l='+datum.label"}},
"size":{"field":"l","type":"ordinal","scale":{"domain":[0,1,2,3,4,5,6,7,8],"range":[36,28,36,28,70,55,65,85,60]},"legend":null},
"order":{"field":"l","type":"quantitative"}}},
{"data":{"values":[{"lab":"(f)"}]},"mark":{"type":"text","font":"DejaVu Sans","fontWeight":"bold","fontSize":11,"align":"right","baseline":"top","color":"#111111"},"encoding":{"text":{"field":"lab"},
"x":{"datum":7.3,"type":"quantitative","axis":{"orient":"top","title":null,"labels":false,"values":[-10,-9,-8,-7,-6,-5,-4,-3,-2,-1,0,1,2,3,4,5,6,7,8],"tickSize":{"condition":{"test":"datum.value%5==0","value":-4},"value":-2}}},
"y":{"datum":1.029,"type":"quantitative","axis":{"orient":"right","title":null,"labels":false,"values":[0,0.05,0.1,0.15,0.2,0.25,0.3,0.35,0.4,0.45,0.5,0.55,0.6,0.65,0.7,0.75,0.8,0.85,0.9,0.95,1,1.05],"tickSize":{"condition":{"test":"indexof([0,0.2,0.4,0.6,0.8,1],datum.value)>=0","value":-4},"value":-2}}}}}
],"resolve":{"axis":{"x":"independent","y":"independent"}}},

{"width":156,"height":157,"layer":[
{"transform":[{"filter":"datum.c==3"}],"mark":{"type":"point","filled":true,"opacity":1},"encoding":{
"x":{"field":"E","type":"quantitative","scale":{"domain":[-14.75,10.65],"nice":false,"zero":false},"axis":{"title":"E","titleFontStyle":"italic","values":[-14,-13,-12,-11,-10,-9,-8,-7,-6,-5,-4,-3,-2,-1,0,1,2,3,4,5,6,7,8,9,10],"labelExpr":"datum.value%5==0?format(datum.value,'d'):''","tickSize":{"condition":{"test":"datum.value%5==0","value":-4},"value":-2}}},
"y":{"field":"d","type":"quantitative","scale":{"domain":[-0.023,1.056],"nice":false,"zero":false},"axis":{"title":"Δτ","titlePadding":15,"values":[0,0.05,0.1,0.15,0.2,0.25,0.3,0.35,0.4,0.45,0.5,0.55,0.6,0.65,0.7,0.75,0.8,0.85,0.9,0.95,1,1.05],"labelExpr":"indexof([0,0.2,0.4,0.6,0.8,1],datum.value)>=0?format(datum.value,'.1f'):''","tickSize":{"condition":{"test":"indexof([0,0.2,0.4,0.6,0.8,1],datum.value)>=0","value":-4},"value":-2}}},
"color":{"field":"l","type":"nominal","scale":{"domain":[0,1,2,3,4,5,6,7,8],"range":["#5a86e0","#f5a623","#e8473f","#72b52a","#a84fcc","#1c9ce0","#7a6bd6","#f08a4b","#17b3b0"]},"legend":{"title":null,"orient":"none","legendX":135,"legendY":398,"direction":"horizontal","columns":9,"labelExpr":"'l='+datum.label"}},
"shape":{"field":"l","type":"nominal","scale":{"domain":[0,1,2,3,4,5,6,7,8],"range":["triangle-up","circle","triangle-down","square","M0,-1L0.2245,-0.309L0.951,-0.309L0.363,0.118L0.588,0.809L0,0.382L-0.588,0.809L-0.363,0.118L-0.951,-0.309L-0.2245,-0.309Z","M-0.55,-1L0.55,-1L0.55,1L-0.55,1Z","diamond","M0,-1L0.175,-0.303L0.866,-0.5L0.35,0L0.866,0.5L0.175,0.303L0,1L-0.175,0.303L-0.866,0.5L-0.35,0L-0.866,-0.5L-0.175,-0.303Z","triangle-down"]},"legend":{"title":null,"orient":"none","legendX":135,"legendY":398,"direction":"horizontal","columns":9,"labelExpr":"'l='+datum.label"}},
"size":{"field":"l","type":"ordinal","scale":{"domain":[0,1,2,3,4,5,6,7,8],"range":[36,28,36,28,70,55,65,85,60]},"legend":null},
"order":{"field":"l","type":"quantitative"}}},
{"data":{"values":[{"lab":"(g)"}]},"mark":{"type":"text","font":"DejaVu Sans","fontWeight":"bold","fontSize":11,"align":"right","baseline":"top","color":"#111111"},"encoding":{"text":{"field":"lab"},
"x":{"datum":9.67,"type":"quantitative","axis":{"orient":"top","title":null,"labels":false,"values":[-14,-13,-12,-11,-10,-9,-8,-7,-6,-5,-4,-3,-2,-1,0,1,2,3,4,5,6,7,8,9,10],"tickSize":{"condition":{"test":"datum.value%5==0","value":-4},"value":-2}}},
"y":{"datum":1.029,"type":"quantitative","axis":{"orient":"right","title":null,"labels":false,"values":[0,0.05,0.1,0.15,0.2,0.25,0.3,0.35,0.4,0.45,0.5,0.55,0.6,0.65,0.7,0.75,0.8,0.85,0.9,0.95,1,1.05],"tickSize":{"condition":{"test":"indexof([0,0.2,0.4,0.6,0.8,1],datum.value)>=0","value":-4},"value":-2}}}}}
],"resolve":{"axis":{"x":"independent","y":"independent"}}},

{"width":159,"height":157,"layer":[
{"transform":[{"filter":"datum.c==4"}],"mark":{"type":"point","filled":true,"opacity":1},"encoding":{
"x":{"field":"E","type":"quantitative","scale":{"domain":[-22,16.3],"nice":false,"zero":false},"axis":{"title":"E","titleFontStyle":"italic","values":[-22,-21,-20,-19,-18,-17,-16,-15,-14,-13,-12,-11,-10,-9,-8,-7,-6,-5,-4,-3,-2,-1,0,1,2,3,4,5,6,7,8,9,10,11,12,13,14,15,16],"labelExpr":"datum.value%5==0?format(datum.value,'d'):''","tickSize":{"condition":{"test":"datum.value%5==0","value":-4},"value":-2}}},
"y":{"field":"d","type":"quantitative","scale":{"domain":[-0.023,1.056],"nice":false,"zero":false},"axis":{"title":"Δτ","values":[0,0.05,0.1,0.15,0.2,0.25,0.3,0.35,0.4,0.45,0.5,0.55,0.6,0.65,0.7,0.75,0.8,0.85,0.9,0.95,1,1.05],"labelExpr":"indexof([0,0.2,0.4,0.6,0.8,1],datum.value)>=0?format(datum.value,'.1f'):''","tickSize":{"condition":{"test":"indexof([0,0.2,0.4,0.6,0.8,1],datum.value)>=0","value":-4},"value":-2}}},
"color":{"field":"l","type":"nominal","scale":{"domain":[0,1,2,3,4,5,6,7,8],"range":["#5a86e0","#f5a623","#e8473f","#72b52a","#a84fcc","#1c9ce0","#7a6bd6","#f08a4b","#17b3b0"]},"legend":{"title":null,"orient":"none","legendX":135,"legendY":398,"direction":"horizontal","columns":9,"labelExpr":"'l='+datum.label"}},
"shape":{"field":"l","type":"nominal","scale":{"domain":[0,1,2,3,4,5,6,7,8],"range":["triangle-up","circle","triangle-down","square","M0,-1L0.2245,-0.309L0.951,-0.309L0.363,0.118L0.588,0.809L0,0.382L-0.588,0.809L-0.363,0.118L-0.951,-0.309L-0.2245,-0.309Z","M-0.55,-1L0.55,-1L0.55,1L-0.55,1Z","diamond","M0,-1L0.175,-0.303L0.866,-0.5L0.35,0L0.866,0.5L0.175,0.303L0,1L-0.175,0.303L-0.866,0.5L-0.35,0L-0.866,-0.5L-0.175,-0.303Z","triangle-down"]},"legend":{"title":null,"orient":"none","legendX":135,"legendY":398,"direction":"horizontal","columns":9,"labelExpr":"'l='+datum.label"}},
"size":{"field":"l","type":"ordinal","scale":{"domain":[0,1,2,3,4,5,6,7,8],"range":[36,28,36,28,70,55,65,85,60]},"legend":null},
"order":{"field":"l","type":"quantitative"}}},
{"data":{"values":[{"lab":"(h)"}]},"mark":{"type":"text","font":"DejaVu Sans","fontWeight":"bold","fontSize":11,"align":"right","baseline":"top","color":"#111111"},"encoding":{"text":{"field":"lab"},
"x":{"datum":14.85,"type":"quantitative","axis":{"orient":"top","title":null,"labels":false,"values":[-22,-21,-20,-19,-18,-17,-16,-15,-14,-13,-12,-11,-10,-9,-8,-7,-6,-5,-4,-3,-2,-1,0,1,2,3,4,5,6,7,8,9,10,11,12,13,14,15,16],"tickSize":{"condition":{"test":"datum.value%5==0","value":-4},"value":-2}}},
"y":{"datum":1.029,"type":"quantitative","axis":{"orient":"right","title":null,"labels":false,"values":[0,0.05,0.1,0.15,0.2,0.25,0.3,0.35,0.4,0.45,0.5,0.55,0.6,0.65,0.7,0.75,0.8,0.85,0.9,0.95,1,1.05],"tickSize":{"condition":{"test":"indexof([0,0.2,0.4,0.6,0.8,1],datum.value)>=0","value":-4},"value":-2}}}}}
],"resolve":{"axis":{"x":"independent","y":"independent"}}}
]}
]
}
